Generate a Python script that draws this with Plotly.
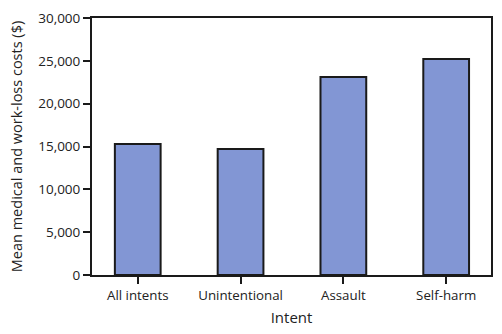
import plotly.graph_objects as go

categories = ["All intents", "Unintentional", "Assault", "Self-harm"]
values = [15300, 14700, 23100, 25200]
y_ticks = [0, 5000, 10000, 15000, 20000, 25000, 30000]
y_tick_labels = ["0", "5,000", "10,000", "15,000", "20,000", "25,000", "30,000"]

font_family = "Open Sans, Liberation Sans, sans-serif"

fig = go.Figure(go.Bar(
    x=categories, y=values,
    width=0.445,
    marker=dict(color="#8296d4", line=dict(color="#1a1a1a", width=2)),
))

fig.update_layout(
    width=502, height=334,
    margin=dict(l=92, r=9, t=18, b=59),
    paper_bgcolor="white", plot_bgcolor="white",
    showlegend=False,
    font=dict(family=font_family, size=13, color="#222"),
    xaxis=dict(
        range=[-0.445, 3.436],
        showline=True, linecolor="#1a1a1a", linewidth=2, mirror=True,
        ticks="outside", ticklen=7, tickwidth=2, tickcolor="#1a1a1a",
        tickfont=dict(size=13.3, family=font_family, color="#222"),
        title=dict(text="Intent", font=dict(size=15, family=font_family, color="#222"), standoff=10),
        showgrid=False,
    ),
    yaxis=dict(
        range=[0, 30000],
        tickvals=y_ticks, ticktext=y_tick_labels,
        showline=True, linecolor="#1a1a1a", linewidth=2, mirror=True,
        ticks="outside", ticklen=7, tickwidth=2, tickcolor="#1a1a1a",
        tickfont=dict(size=13.5, family=font_family, color="#222"),
        title=dict(text="Mean medical and work-loss costs ($)", font=dict(size=14.5, family=font_family, color="#222"), standoff=12),
        showgrid=False, zeroline=False,
    ),
)

fig.write_html("out.html")
